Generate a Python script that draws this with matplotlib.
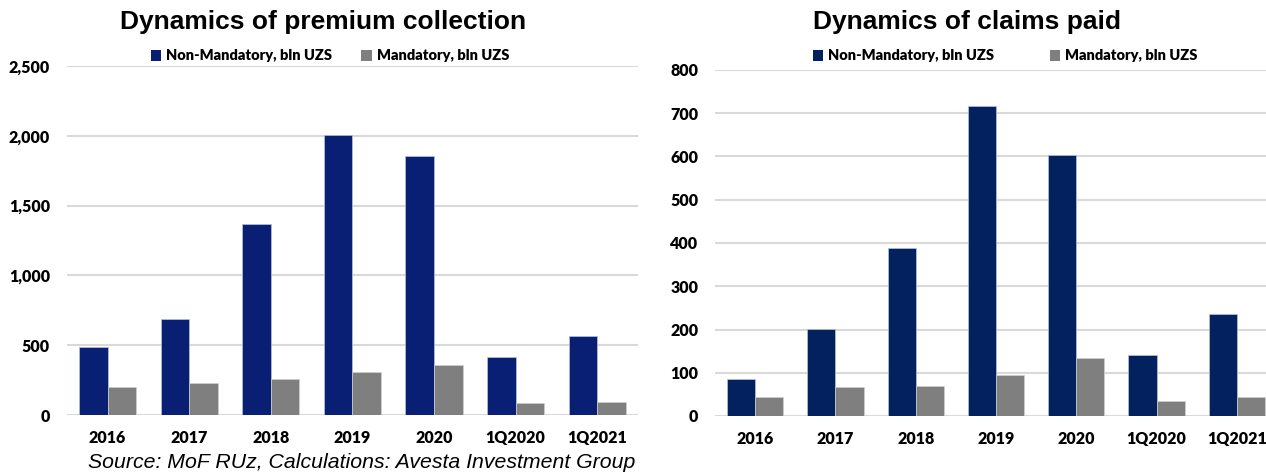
import matplotlib.pyplot as plt
import numpy as np
from matplotlib.ticker import FuncFormatter, MultipleLocator
from matplotlib.patches import Patch

categories = ["2016", "2017", "2018", "2019", "2020", "1Q2020", "1Q2021"]

premium_non_mandatory = [484, 690, 1370, 2005, 1852, 413, 568]
premium_mandatory = [204, 228, 259, 308, 356, 84, 91]

claims_non_mandatory = [85, 201, 388, 717, 603, 140, 236]
claims_mandatory = [45, 66, 70, 94, 134, 35, 45]

series_labels = ["Non-Mandatory, bln UZS", "Mandatory, bln UZS"]

W, H = 1266, 472
fig = plt.figure(figsize=(W / 100, H / 100), dpi=100)

TICK_FONT = "Lato"
TITLE_FONT = "Liberation Sans"
GRAY = "#7F7F7F"
GRID = "#D9D9D9"


def frac_box(x0, y0, x1, y1):
    return [x0 / W, 1 - y1 / H, (x1 - x0) / W, (y1 - y0) / H]


def draw_panel(box, non_mand, mand, blue, ymax, step, title, title_x, legend_x, colspace, comma):
    ax = fig.add_axes(box)
    x = np.arange(len(categories))
    bw = 0.35
    ax.bar(x - bw / 2, non_mand, bw, color=blue, edgecolor="#B8C4DC", linewidth=0.5, zorder=3)
    ax.bar(x + bw / 2, mand, bw, color=GRAY, edgecolor="#D0D0D0", linewidth=0.5, zorder=3)
    ax.set_xlim(-0.5, len(categories) - 0.5)
    ax.set_ylim(0, ymax)
    ax.yaxis.set_major_locator(MultipleLocator(step))
    if comma:
        ax.yaxis.set_major_formatter(FuncFormatter(lambda v, p: f"{int(v):,}"))
    ax.grid(axis="y", color=GRID, linewidth=1.5, zorder=0)
    ax.set_axisbelow(True)
    for s in ax.spines.values():
        s.set_visible(False)
    ax.set_xticks(x)
    ax.set_xticklabels(categories)
    ax.tick_params(axis="both", length=0, labelsize=11.5, colors="#000000")
    ax.tick_params(axis="x", pad=11)
    ax.tick_params(axis="y", pad=12)
    for lab in ax.get_xticklabels() + ax.get_yticklabels():
        lab.set_fontfamily(TICK_FONT)
        lab.set_fontweight("heavy")
    fig.text(title_x / W, 1 - 22 / H, title, ha="center", va="center",
             fontsize=19, fontweight="bold", family=TITLE_FONT, color="#000000")
    handles = [Patch(facecolor=blue, edgecolor="none"), Patch(facecolor=GRAY, edgecolor="none")]
    fig.legend(handles, series_labels, loc="center left",
               bbox_to_anchor=(legend_x / W, 1 - 56 / H), ncol=2, frameon=False,
               prop={"family": TICK_FONT, "weight": "heavy", "size": 10.5},
               handlelength=0.7, handleheight=0.7, handletextpad=0.35,
               columnspacing=colspace, borderpad=0, borderaxespad=0)
    return ax


draw_panel(frac_box(66.7, 66, 638, 415), premium_non_mandatory, premium_mandatory,
           "#081F73", 2500, 500, "Dynamics of premium collection", 323, 151, 2.0, True)
draw_panel(frac_box(715, 70, 1277, 416), claims_non_mandatory, claims_mandatory,
           "#03215F", 800, 100, "Dynamics of claims paid", 967, 813, 3.8, False)

fig.text(362 / W, 1 - 462 / H, "Source: MoF RUz, Calculations: Avesta Investment Group",
         ha="center", va="center", fontsize=15.3, style="italic", family=TITLE_FONT,
         color="#000000")

fig.savefig("out.png", dpi=100)
